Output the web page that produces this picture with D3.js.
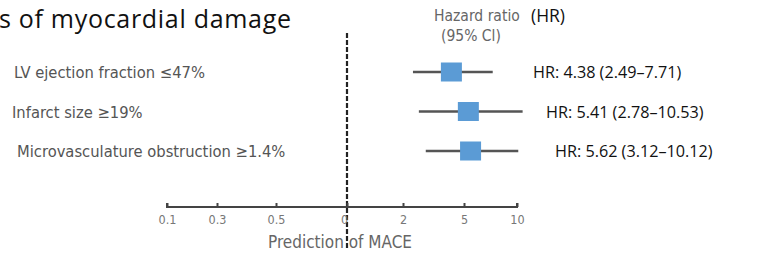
<!DOCTYPE html>
<html>
<head>
<meta charset="utf-8">
<script src="https://cdn.jsdelivr.net/npm/d3@7"></script>
<style>
  body { margin: 0; background: #fff; }
  svg { display: block; }
</style>
</head>
<body>
<div id="chart"></div>
<script>
// forest plot data
const predictors = ["LV ejection fraction \u226447%", "Infarct size \u226519%", "Microvasculature obstruction \u22651.4%"];
const hazardRatios = [4.38, 5.41, 5.62];
const ciLow = [2.49, 2.78, 3.12];
const ciHigh = [7.71, 10.53, 10.12];
const tickValues = [0.1, 0.3, 0.5, 1, 2, 5, 10];
const tickLabels = ["0.1", "0.3", "0.5", "0", "2", "5", "10"];

const width = 760;
const height = 255;

const svg = d3.select("#chart").append("svg")
    .attr("width", width)
    .attr("height", height);

// axis in the source is drawn unevenly, so map ticks piecewise
const x = d3.scaleLinear()
    .domain(tickValues)
    .range([167, 217, 276, 347, 403, 464, 517]);

const y = d3.scalePoint()
    .domain(predictors)
    .range([72, 151]);

const grayFont = "'Liberation Sans Narrow', 'DejaVu Sans Condensed', sans-serif";
const blackFont = "'Open Sans', 'Noto Sans', sans-serif";

// title (cropped in the source)
svg.append("text")
    .attr("x", -1)
    .attr("y", 28)
    .attr("font-family", blackFont)
    .attr("font-size", 25)
    .attr("letter-spacing", 0.7)
    .attr("fill", "#111")
    .text("s of myocardial damage");

// column header
svg.append("text")
    .attr("x", 434)
    .attr("y", 21)
    .attr("font-family", grayFont)
    .attr("font-size", 15.5)
    .attr("fill", "#666")
    .text("Hazard ratio");
svg.append("text")
    .attr("x", 441)
    .attr("y", 41)
    .attr("font-family", grayFont)
    .attr("font-size", 15.5)
    .attr("fill", "#666")
    .text("(95% Cl)");
svg.append("text")
    .attr("x", 531)
    .attr("y", 22)
    .attr("font-family", blackFont)
    .attr("font-size", 17.5)
    .attr("fill", "#111")
    .text("(HR)");

// reference line at HR = 1
svg.append("line")
    .attr("x1", x(1)).attr("x2", x(1))
    .attr("y1", 33).attr("y2", 250)
    .attr("stroke", "#222")
    .attr("stroke-width", 2.2)
    .attr("stroke-dasharray", "5,2");

// x axis
const axis = svg.append("g")
    .attr("transform", "translate(0,207)")
    .call(d3.axisBottom(x)
        .tickValues(tickValues)
        .tickFormat((d, i) => tickLabels[i])
        .tickSize(-4)
        .tickPadding(8));
axis.select(".domain")
    .attr("d", `M${x(0.1)},-4V0H${x(10)}V-4`)
    .attr("stroke", "#444")
    .attr("stroke-width", 2);
axis.selectAll(".tick line").attr("stroke", "#444").attr("stroke-width", 2);
axis.selectAll(".tick text")
    .attr("font-family", grayFont)
    .attr("font-size", 12.5)
    .attr("fill", "#777")
    .attr("dx", d => d === 1 ? -3 : 0);

svg.append("text")
    .attr("x", 340)
    .attr("y", 248)
    .attr("text-anchor", "middle")
    .attr("font-family", grayFont)
    .attr("font-size", 17)
    .attr("fill", "#666")
    .text("Prediction of MACE");

const rows = predictors.map((p, i) => ({
    label: p, hr: hazardRatios[i], lo: ciLow[i], hi: ciHigh[i]
}));

const labelX = [14, 12, 17];
const hrLabelX = [533, 546, 555];

const row = svg.selectAll(".row")
    .data(rows)
    .enter()
    .append("g")
    .attr("class", "row");

row.append("text")
    .attr("x", (d, i) => labelX[i])
    .attr("y", d => y(d.label) + 6)
    .attr("font-family", grayFont)
    .attr("font-size", 16.4)
    .attr("fill", "#555")
    .text(d => d.label);

row.append("line")
    .attr("x1", d => x(d.lo))
    .attr("x2", d => x(d.hi))
    .attr("y1", d => y(d.label))
    .attr("y2", d => y(d.label))
    .attr("stroke", "#555")
    .attr("stroke-width", 2.5);

row.append("rect")
    .attr("x", d => x(d.hr) - 10.5)
    .attr("y", d => y(d.label) - 9.5)
    .attr("width", 21)
    .attr("height", 19)
    .attr("fill", "#5b9bd5");

row.append("text")
    .attr("x", (d, i) => hrLabelX[i])
    .attr("y", d => y(d.label) + 6)
    .attr("font-family", blackFont)
    .attr("font-size", 16.2)
    .attr("fill", "#111")
    .text(d => `HR: ${d.hr.toFixed(2)} (${d.lo.toFixed(2)}\u2013${d.hi.toFixed(2)})`);
</script>
</body>
</html>
